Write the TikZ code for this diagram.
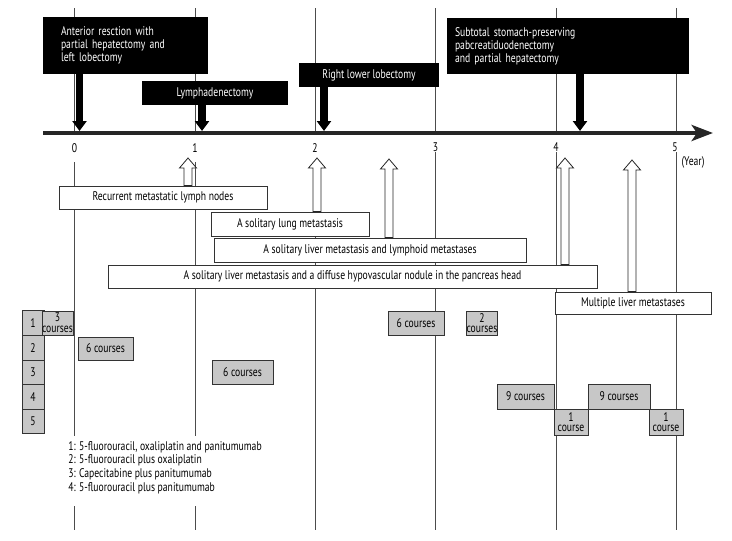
\documentclass[tikz,border=0pt]{standalone}
\usepackage{fontspec}
\setmainfont{PT Sans}[FakeStretch=0.77]
\usepackage{tikz}
\usetikzlibrary{arrows.meta}

\tikzset{
  wh/.style 2 args={minimum width=#1*0.75pt,minimum height=#2*0.75pt},
  yearline/.style={draw=black!70,line width=0.6pt},
  surgbox/.style={fill=black,text=white,inner sep=0pt},
  findbox/.style={draw=black!80,fill=white,line width=0.6pt,inner sep=0pt},
  chemobox/.style={draw=black!80,fill=black!22,line width=0.6pt,inner sep=0pt,align=center},
  twoline/.style={font=\fontsize{9.4}{8}\selectfont},
  surgarrow/.style={line width=5.5pt,-{Triangle[width=10.5pt,length=7.5pt]}},
  openarrow/.style={draw=black!85,fill=white,line width=0.6pt}
}
% hollow up arrow from base #1 to tip #2
\newcommand{\uparr}[2]{%
  \path[openarrow] ([xshift=-3pt]#1) -- ([xshift=-3pt,yshift=-7.5pt]#2)
    -- ([xshift=-6.4pt,yshift=-7.5pt]#2) -- (#2)
    -- ([xshift=6.4pt,yshift=-7.5pt]#2) -- ([xshift=3pt,yshift=-7.5pt]#2)
    -- ([xshift=3pt]#1) -- cycle;}

\begin{document}
\begin{tikzpicture}[x=0.75pt,y=-0.75pt,font=\fontsize{9.4}{9.75}\selectfont]
      \useasboundingbox (0,0) rectangle (732,540);

      % year lines
      \draw[yearline] (74.5,8) -- (74.5,131) (74.5,162) -- (74.5,436) (74.5,506) -- (74.5,530);
      \draw[yearline] (195,8) -- (195,131) (195,162) -- (195,436) (195,506) -- (195,530);
      \draw[yearline] (315,8) -- (315,131) (315,162) -- (315,530);
      \draw[yearline] (435.5,8) -- (435.5,131) (435.5,152) -- (435.5,530);
      \draw[yearline] (556,8) -- (556,131) (556,152) -- (556,530);
      \draw[yearline] (676.5,8) -- (676.5,131) (676.5,152) -- (676.5,530);

      % time axis
      \coordinate (axs) at (43,133);
      \coordinate (axe) at (713,133);
      \draw[black!85,line width=3pt,-{Stealth[width=12pt,length=16pt,inset=4pt]}] (axs) -- (axe);

      \node (y0) at (74.5,148) {0};
      \node (y1) at (195,148) {1};
      \node (y2) at (315,148) {2};
      \node (y3) at (435.5,147) {3};
      \node (y4) at (556,147) {4};
      \node (y5) at (675,147) {5};
      \node (yr) at (693,162) {(Year)};

      % surgeries
      \begin{scope}[every node/.style={surgbox}]
        \node[wh={165}{57},text width=96.75pt,inner xsep=13.5pt,align=left] (s1) at (125.5,45.5)
          {Anterior resction with\\partial hepatectomy and\\left lobectomy};
        \node[wh={146}{24}] (s2) at (215,93) {Lymphadenectomy};
        \node[wh={140}{24}] (s3) at (369,75) {Right lower lobectomy};
        \node[wh={242}{56},text width=169.5pt,inner xsep=6pt,align=left] (s4) at (568,46)
          {Subtotal stomach-preserving\\pabcreatiduodenectomy\\and partial hepatectomy};
      \end{scope}

      \coordinate (op1) at (79.5,131);
      \coordinate (op2) at (202,131);
      \coordinate (op3) at (324,131);
      \coordinate (op4) at (580,131);
      \draw[surgarrow] (s1.south -| op1) -- (op1);
      \draw[surgarrow] (s2.south -| op2) -- (op2);
      \draw[surgarrow] (s3.south -| op3) -- (op3);
      \draw[surgarrow] (s4.south -| op4) -- (op4);

      % recurrences
      \begin{scope}[every node/.style={findbox}]
        \node[wh={208}{23}] (f1) at (163,197.5) {Recurrent metastatic lymph nodes};
        \node[wh={158}{24}] (f2) at (290,224) {A solitary lung metastasis};
        \node[wh={312}{24}] (f3) at (370,250) {A solitary liver metastasis and lymphoid metastases};
        \node[wh={489}{23}] (f4) at (352.5,276.5) {A solitary liver metastasis and a diffuse hypovascular nodule in the pancreas head};
        \node[wh={156}{22}] (f5) at (633,303) {Multiple liver metastases};
      \end{scope}

      \coordinate (rc1) at (188,158);
      \coordinate (rc2) at (317,158);
      \coordinate (rc3) at (389,159);
      \coordinate (rc4) at (565,158);
      \coordinate (rc5) at (632,160);
      \coordinate (rb1) at (f1.north -| rc1);
      \coordinate (rb2) at (f2.north -| rc2);
      \coordinate (rb3) at (f3.north -| rc3);
      \coordinate (rb4) at (f4.north -| rc4);
      \coordinate (rb5) at (f5.north -| rc5);
      \uparr{rb1}{rc1}
      \uparr{rb2}{rc2}
      \uparr{rb3}{rc3}
      \uparr{rb4}{rc4}
      \uparr{rb5}{rc5}

      % chemotherapy
      \begin{scope}[every node/.style={chemobox}]
        \node[wh={22}{24.6}] (r1) at (33,323) {1};
        \node[wh={22}{24.6}] (r2) at (33,347.6) {2};
        \node[wh={22}{24.6}] (r3) at (33,372.2) {3};
        \node[wh={22}{24.6}] (r4) at (33,396.8) {4};
        \node[wh={22}{24.6}] (r5) at (33,421.4) {5};
        \node[wh={27}{24},twoline] (c1) at (57.5,323) {3\\courses};
        \node[wh={55}{23}] (c2) at (105.5,348.5) {6 courses};
        \node[wh={61}{24}] (c3) at (242.5,372) {6 courses};
        \node[wh={56}{24}] (c4) at (416,323) {6 courses};
        \node[wh={30}{24},twoline] (c5) at (482,323) {2\\courses};
        \node[wh={57}{25}] (c6) at (525.5,396.5) {9 courses};
        \node[wh={34}{26},twoline] (c7) at (571,422) {1\\course};
        \node[wh={62}{25}] (c8) at (619,396.5) {9 courses};
        \node[wh={34}{26},twoline] (c9) at (666,422) {1\\course};
      \end{scope}

      \node[anchor=north west,inner sep=0pt,align=left,font=\fontsize{9.4}{10.2}\selectfont] (key) at (68,441)
        {1: 5-fluorouracil, oxaliplatin and panitumumab\\2: 5-fluorouracil plus oxaliplatin\\3: Capecitabine plus panitumumab\\4: 5-fluorouracil plus panitumumab};
    \end{tikzpicture}
\end{document}
